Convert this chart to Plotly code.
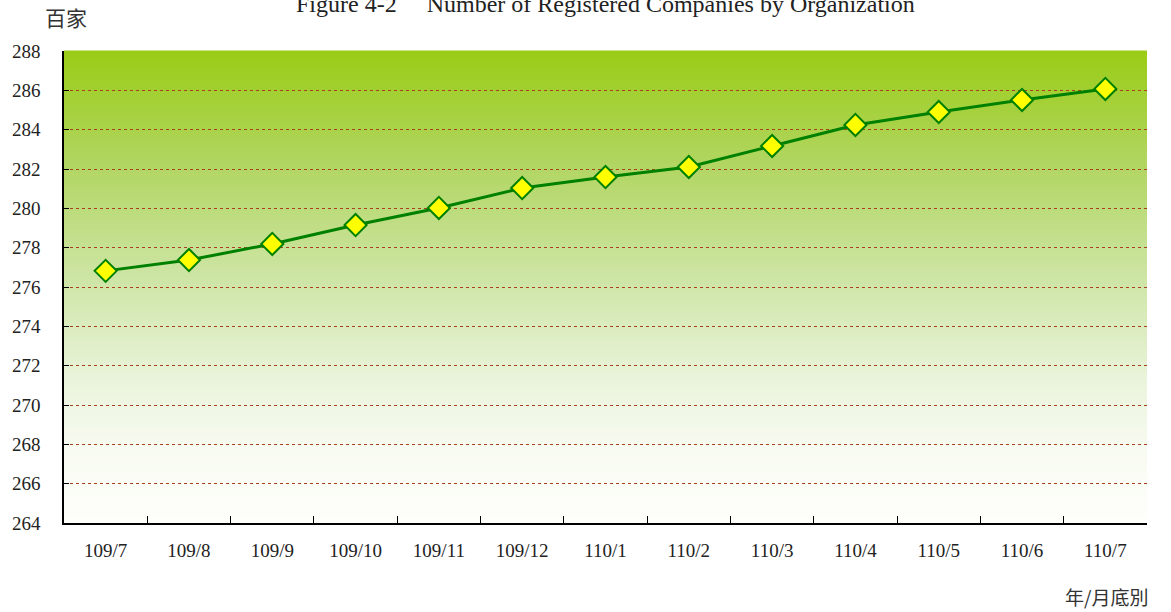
import plotly.graph_objects as go

categories = ["109/7", "109/8", "109/9", "109/10", "109/11", "109/12",
              "110/1", "110/2", "110/3", "110/4", "110/5", "110/6", "110/7"]
values = [276.82, 277.37, 278.19, 279.15, 280.02, 281.03,
          281.59, 282.10, 283.17, 284.24, 284.90, 285.51, 286.07]
y_ticks = list(range(264, 289, 2))

title_text = "Figure 4-2\u3000 Number of Registered Companies by Organization"
y_unit = "百家"
x_unit = "年/月底別"

fig = go.Figure()

# vertical gradient background (top green -> bottom near-white)
stops = [(0.0, (154, 204, 22)), (0.25, (178, 214, 100)), (0.5, (208, 230, 170)),
         (0.7, (234, 244, 219)), (0.85, (248, 251, 242)), (1.0, (254, 254, 251))]

def col_at(t):
    for (t0, c0), (t1, c1) in zip(stops[:-1], stops[1:]):
        if t0 <= t <= t1:
            f = (t - t0) / (t1 - t0) if t1 > t0 else 0
            return tuple(round(a + (b - a) * f) for a, b in zip(c0, c1))
    return stops[-1][1]

N = 150
shapes = []
for i in range(N):
    t = (i + 0.5) / N  # from top
    r, g, b = col_at(t)
    shapes.append(dict(type="rect", xref="x domain", yref="y domain",
                       x0=0, x1=1, y0=1 - (i + 1) / N - 0.001, y1=1 - i / N + 0.001,
                       fillcolor=f"rgb({r},{g},{b})", line=dict(width=0), layer="below"))

fig.add_trace(go.Scatter(
    x=categories, y=values, mode="lines+markers",
    line=dict(color="#008000", width=3),
    marker=dict(symbol="diamond", size=17, color="#FFFF00",
                line=dict(color="#008000", width=2)),
    hoverinfo="x+y", showlegend=False,
))

fig.update_layout(
    width=1171, height=612,
    margin=dict(l=61, r=24, t=51, b=89),
    paper_bgcolor="white", plot_bgcolor="rgba(0,0,0,0)",
    shapes=shapes,
    font=dict(family="Liberation Serif, Times New Roman, serif", size=19, color="#222"),
    annotations=[
        dict(text=title_text, xref="paper", yref="paper", x=0.5, y=1,
             xanchor="center", yanchor="middle", yshift=47, showarrow=False,
             font=dict(family="Liberation Serif, serif", size=24, color="#222")),
        dict(text=y_unit, xref="paper", yref="paper", x=0, y=1, xshift=-21,
             xanchor="left", yanchor="middle", yshift=34, showarrow=False,
             font=dict(family="Noto Sans CJK TC, sans-serif", size=21, color="#333")),
        dict(text=x_unit, xref="paper", yref="paper", x=1, y=0, xshift=3,
             xanchor="right", yanchor="middle", yshift=-73, showarrow=False,
             font=dict(family="Noto Sans CJK TC, sans-serif", size=19, color="#333")),
    ],
)

fig.update_xaxes(
    type="category", showline=True, linecolor="black", linewidth=1.5,
    ticks="inside", ticklen=7, tickcolor="black", tickson="boundaries",
    showgrid=False, ticklabelstandoff=9, tickfont=dict(size=19),
    range=[-0.5, len(categories) - 0.5],
)
fig.update_yaxes(
    range=[264, 288], tickvals=y_ticks, showline=True, linecolor="black", linewidth=1.5,
    ticks="inside", ticklen=5, tickcolor="black",
    showgrid=True, gridcolor="#A8401E", griddash="dot", gridwidth=1,
    zeroline=False, tickfont=dict(size=19), ticklabelstandoff=18,
)

fig.write_html("out.html", config={"displayModeBar": False},
               post_script="document.body.style.margin='0';")
